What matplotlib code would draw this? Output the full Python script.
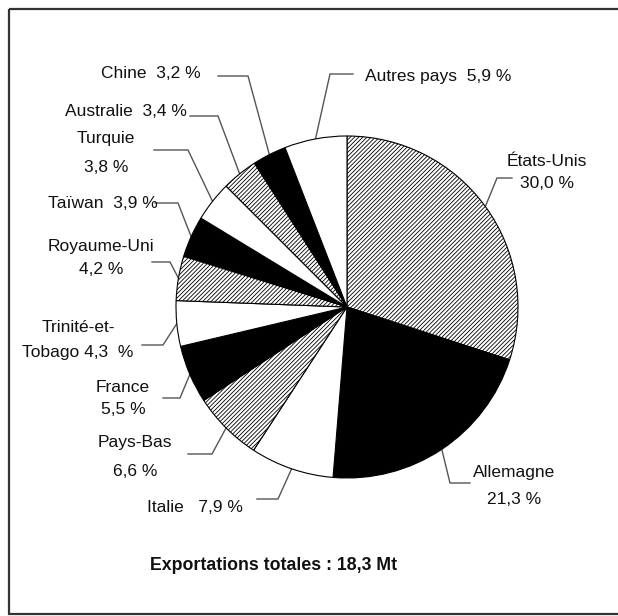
import matplotlib
matplotlib.use('Agg')
import matplotlib.pyplot as plt
import numpy as np
from matplotlib.patches import Rectangle

plt.rcParams['font.family'] = ['Liberation Sans', 'DejaVu Sans']
plt.rcParams['hatch.linewidth'] = 0.6

# Données : parts des exportations (%)
pays = ['États-Unis', 'Allemagne', 'Italie', 'Pays-Bas', 'France',
        'Trinité-et-Tobago', 'Royaume-Uni', 'Taïwan', 'Turquie',
        'Australie', 'Chine', 'Autres pays']
parts = [30.0, 21.3, 7.9, 6.6, 5.5, 4.3, 4.2, 3.9, 3.8, 3.4, 3.2, 5.9]
etiquettes = [['États-Unis', '30,0 %'], ['Allemagne', '21,3 %'],
              ['Italie   7,9 %'], ['Pays-Bas', '6,6 %'],
              ['France', '5,5 %'], ['Trinité-et-', 'Tobago 4,3  %'],
              ['Royaume-Uni', '4,2 %'], ['Taïwan  3,9 %'],
              ['Turquie', '3,8 %'], ['Australie  3,4 %'],
              ['Chine  3,2 %'], ['Autres pays  5,9 %']]
titre = 'Exportations totales : 18,3 Mt'

# Styles des secteurs : hachuré, noir, blanc
styles = ['h', 'n', 'b', 'h', 'n', 'b', 'h', 'n', 'b', 'h', 'n', 'b']

# Mise en page (pixels) : coude et fin des traits de rappel, position du texte
coudes = [(497, 178), (450, 483), (278, 499), (212, 454), (180, 398),
          (163, 345), (170, 262), (178, 203), (188, 150), (218, 116),
          (248, 76), (330, 74)]
fins = [(512, 178), (470, 483), (257, 499), (188, 454), (163, 398),
        (142, 345), (152, 262), (155, 203), (154, 150), (190, 116),
        (218, 76), (353, 74)]
textes_xy = [(547, 162, 22), (514, 473, 27), (195, 507, 0), (135, 443, 29),
             (123, 387, 23), (78, 328, 24), (101, 246, 24), (103, 203, 0),
             (106, 138, 29), (126, 111, 0), (151, 73, 0), (438, 76, 0)]

W, H = 618, 616
cx, cy, r = 347, 307, 171

fig = plt.figure(figsize=(W / 100, H / 100), dpi=100)
ax_o = fig.add_axes([0, 0, 1, 1])
ax_o.set_xlim(0, W)
ax_o.set_ylim(H, 0)
ax_o.axis('off')

ax = fig.add_axes([(cx - r) / W, (H - cy - r) / H, 2 * r / W, 2 * r / H])
couleurs = {'h': 'white', 'n': 'black', 'b': 'white'}
hachures = {'h': '////////', 'n': None, 'b': None}
wedges, _ = ax.pie(parts, startangle=90, counterclock=False, radius=1,
                   colors=[couleurs[s] for s in styles],
                   wedgeprops=dict(edgecolor='black', linewidth=0.8))
for w, s in zip(wedges, styles):
    if hachures[s]:
        w.set_hatch(hachures[s])
ax.set_xlim(-1, 1)
ax.set_ylim(-1, 1)
ax.axis('off')

# Traits de rappel
to_o = ax.transData + ax_o.transData.inverted()
for w, c, f in zip(wedges, coudes, fins):
    a = np.deg2rad((w.theta1 + w.theta2) / 2)
    bx, by = to_o.transform((np.cos(a), np.sin(a)))
    ax_o.plot([bx, c[0], f[0]], [by, c[1], f[1]], color='#555555', lw=1,
              solid_joinstyle='miter')

# Étiquettes
for lignes, (x, y, dy) in zip(etiquettes, textes_xy):
    for i, t in enumerate(lignes):
        ax_o.text(x, y + i * dy, t, ha='center', va='center', fontsize=12.5,
                  color='#111111')

ax_o.text(274, 565, titre, ha='center', va='center', fontsize=12.8,
          fontweight='bold', color='#111111')

# Cadre
ax_o.add_patch(Rectangle((9, 9), 640, 605, fill=False, edgecolor='#333333',
                         lw=1.6, clip_on=False))

fig.savefig('out.png', dpi=100)
